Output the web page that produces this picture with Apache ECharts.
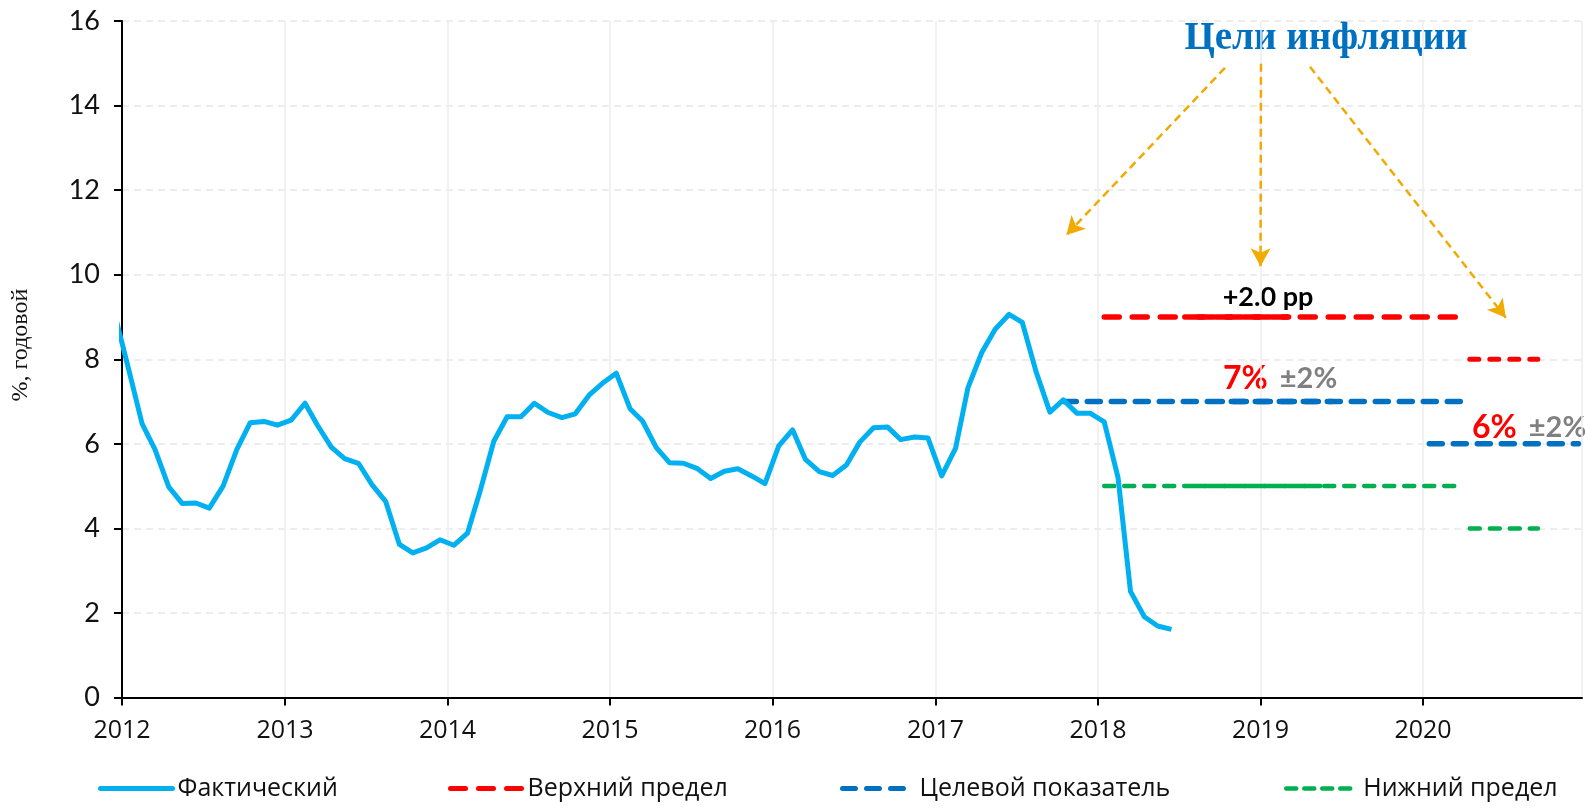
<!DOCTYPE html>
<html>
<head>
<meta charset="utf-8">
<script src="https://cdn.jsdelivr.net/npm/echarts@6/dist/echarts.min.js"></script>
<style>
    html, body { margin: 0; padding: 0; background: #fff; }
    #main { width: 1585px; height: 811px; }
</style>
</head>
<body>
<div id="main"></div>
<script>
// фактическая инфляция, % годовых, помесячно начиная с дек-2011
var actualStart = [2011, 12];
var actualValues = [9.1,
    7.8, 6.48, 5.87, 4.98, 4.59, 4.60, 4.48, 5.00, 5.87, 6.50, 6.53, 6.44,
    6.56, 6.96, 6.44, 5.92, 5.65, 5.54, 5.04, 4.64, 3.62, 3.42, 3.54, 3.73,
    3.60, 3.89, 4.87, 6.06, 6.64, 6.64, 6.96, 6.74, 6.62, 6.71, 7.15, 7.43,
    7.67, 6.83, 6.54, 5.91, 5.55, 5.54, 5.42, 5.18, 5.35, 5.41, 5.24, 5.06,
    5.95, 6.33, 5.63, 5.34, 5.25, 5.50, 6.04, 6.38, 6.40, 6.10, 6.16, 6.14,
    5.24, 5.89, 7.33, 8.16, 8.71, 9.06, 8.87, 7.70, 6.75, 7.04, 6.72, 6.72,
    6.52, 5.20, 2.51, 1.91, 1.69, 1.61];

// цели
var upperLimit = [['2018-01-15', 9], ['2020-03-15', 9]];
var upperLimit2 = [['2020-04-15', 8], ['2020-09-15', 8]];
var upperOverlay = [['2018-07-15', 9], ['2019-03-05', 9]];
var targetLine = [['2017-10-15', 7], ['2020-04-15', 7]];
var targetLine2 = [['2020-01-15', 6], ['2020-12-15', 6]];
var targetOverlay = [['2018-10-05', 7], ['2019-06-10', 7]];
var lowerLimit = [['2018-01-15', 5], ['2020-03-25', 5]];
var lowerLimit2 = [['2020-04-15', 4], ['2020-09-15', 4]];
var lowerOverlay = [['2018-07-15', 5], ['2019-05-15', 5]];

// стрелки от заголовка
var arrows = [
    [['2018-10-13', 14.89], ['2017-10-22', 10.94]],
    [['2019-01-02', 14.99], ['2019-01-01', 10.2]],
    [['2019-04-22', 14.92], ['2020-07-05', 8.98]]
];

var names = ['Фактический', 'Верхний предел', 'Целевой показатель', 'Нижний предел'];
var legendLeft = [98, 448, 840, 1284];
var legendLines = [
    { color: '#00B0F0', width: 5, type: 'solid', cap: 'round' },
    { color: '#FF0000', width: 5, type: [15, 13], cap: 'round' },
    { color: '#0070C0', width: 5, type: [13, 11], cap: 'round' },
    { color: '#00B050', width: 4.5, type: [10, 8], cap: 'round' }
];

var actualData = (function () {
    var res = [];
    var y = actualStart[0], m = actualStart[1];
    for (var i = 0; i < actualValues.length; i++) {
        res.push([y + '-' + (m < 10 ? '0' + m : m) + '-15', actualValues[i]]);
        m++;
        if (m > 12) { m = 1; y++; }
    }
    return res;
})();

var YEAR = 3600 * 24 * 1000 * 365;

function dashed(name, data, color, width, dash, offset) {
    return {
        name: name,
        type: 'line',
        data: data,
        symbol: 'none',
        silent: true,
        lineStyle: { color: color, width: width, type: dash, dashOffset: offset || 0, cap: 'round' },
        itemStyle: { color: color },
        z: 2
    };
}

var pctRich = {
    a: { fontFamily: 'Lato', fontWeight: 'bold', fontSize: 32, fill: '#FF0000' },
    s: { fontSize: 12, width: 12 },
    b: { fontFamily: 'Lato', fontWeight: 'bold', fontSize: 29, fill: '#808080' }
};

var myChart = echarts.init(document.getElementById('main'));
var option = {
    animation: false,
    backgroundColor: '#fff',
    grid: { left: 122, right: 3, top: 21, bottom: 113.5, containLabel: false },
    legend: names.map(function (n, i) {
        return {
            data: [n],
            left: legendLeft[i],
            top: 776,
            padding: 0,
            itemWidth: 72,
            itemHeight: 14,
            itemGap: 5,
            itemStyle: { opacity: 0 },
            lineStyle: legendLines[i],
            textStyle: { fontFamily: 'Open Sans', fontSize: 25, color: '#111' }
        };
    }),
    xAxis: {
        type: 'time',
        min: '2012-01-01',
        max: '2020-12-23',
        minInterval: YEAR,
        maxInterval: YEAR + 3600 * 24 * 1000,
        axisLine: { lineStyle: { color: '#000', width: 2 } },
        axisTick: { show: true, length: 8, lineStyle: { color: '#000', width: 2 } },
        axisLabel: {
            margin: 21,
            fontFamily: 'Open Sans',
            fontSize: 25,
            color: '#111',
            formatter: function (v) { return String(new Date(v).getFullYear()); }
        },
        splitLine: { show: true, lineStyle: { color: '#ececec', width: 1.5 } }
    },
    yAxis: {
        type: 'value',
        min: 0,
        max: 16,
        interval: 2,
        axisLine: { show: true, lineStyle: { color: '#000', width: 2 } },
        axisTick: { show: true, length: 8, lineStyle: { color: '#000', width: 2 } },
        axisLabel: { margin: 22, fontFamily: 'Lato', fontSize: 27, color: '#111' },
        splitLine: { show: true, lineStyle: { color: '#e8e8e8', width: 1.5, type: [7, 5] } }
    },
    series: [
        dashed(names[1], upperLimit, '#FF0000', 5.5, [15, 13]),
        dashed(names[1], upperLimit2, '#FF0000', 5, [9, 11]),
        dashed('upper2', upperOverlay, '#FF0000', 5.5, [15, 13], 14),
        dashed(names[2], targetLine, '#0070C0', 5.5, [13, 11]),
        dashed(names[2], targetLine2, '#0070C0', 5.5, [13, 11]),
        dashed('target2', targetOverlay, '#0070C0', 5.5, [13, 11], 12),
        dashed(names[3], lowerLimit, '#00B050', 4.5, [10, 10]),
        dashed(names[3], lowerLimit2, '#00B050', 4.5, [10, 10]),
        dashed('lower2', lowerOverlay, '#00B050', 4.5, [10, 10], 10),
        {
            name: names[0],
            type: 'line',
            data: actualData,
            symbol: 'none',
            clip: true,
            lineStyle: { color: '#00B0F0', width: 5, join: 'round' },
            itemStyle: { color: '#00B0F0' },
            z: 5,
            markLine: {
                silent: true,
                symbol: ['none', 'arrow'],
                symbolSize: [15, 18],
                label: { show: false },
                lineStyle: { color: '#F0AA00', width: 2.5, type: [8, 5] },
                data: arrows.map(function (a) {
                    return [{ coord: a[0] }, { coord: a[1] }];
                })
            }
        }
    ],
    graphic: [
        {
            type: 'text', x: 21, y: 345, rotation: Math.PI / 2,
            style: {
                text: '%, годовой', align: 'center', verticalAlign: 'middle',
                font: '24px "Liberation Serif"', fill: '#111'
            }
        },
        {
            type: 'text', x: 1326, y: 39,
            style: {
                text: 'Цели инфляции', align: 'center', verticalAlign: 'middle',
                font: 'bold 39px "Liberation Serif"', fill: '#0070C0'
            }
        },
        {
            type: 'text', x: 1268, y: 297,
            style: {
                text: '+2.0 pp', align: 'center', verticalAlign: 'middle',
                font: 'bold 27px Lato', fill: '#000'
            }
        },
        {
            type: 'text', x: 1223, y: 379,
            style: { text: '{a|7%}{s| }{b|±2%}', align: 'left', verticalAlign: 'middle', rich: pctRich }
        },
        {
            type: 'text', x: 1472, y: 428,
            style: { text: '{a|6%}{s| }{b|±2%}', align: 'left', verticalAlign: 'middle', rich: pctRich }
        }
    ]
};
if (option && typeof option === "object") {
    myChart.setOption(option, true);
}
</script>
</body>
</html>
